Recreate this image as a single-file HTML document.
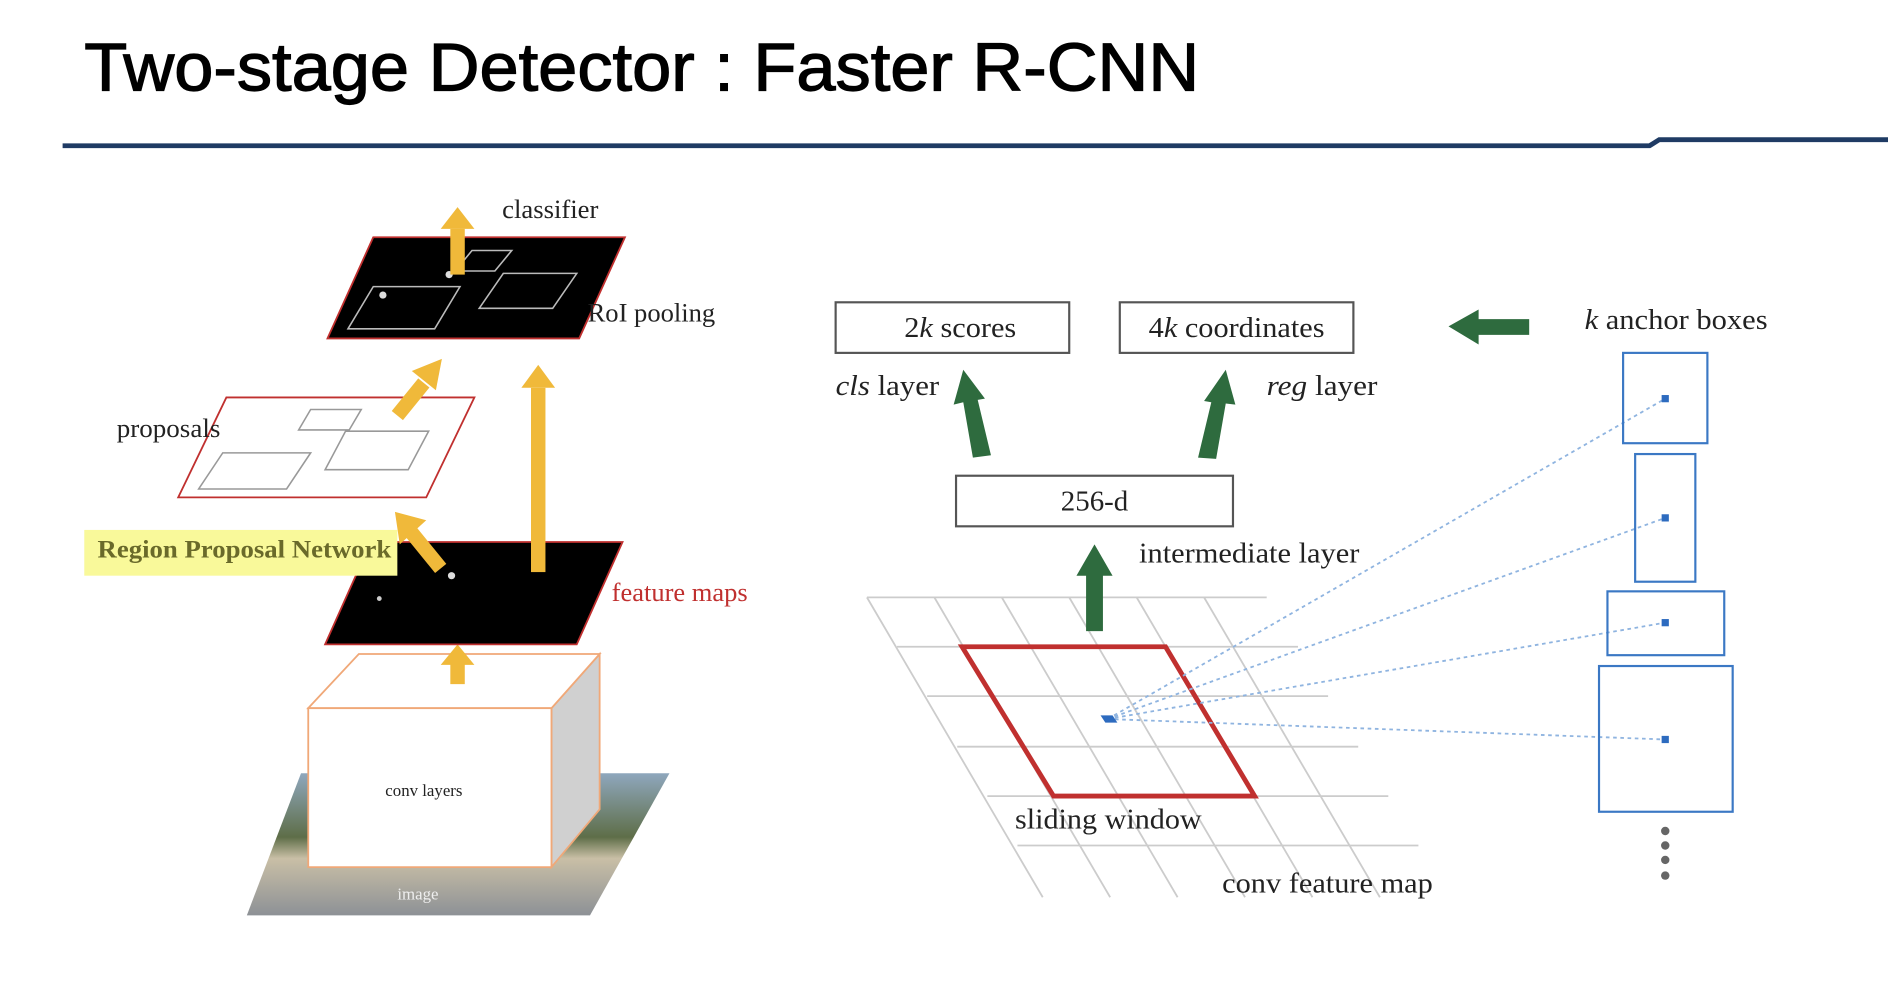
<!DOCTYPE html>
<html><head><meta charset="utf-8"><style>html,body{margin:0;padding:0;background:#fff;overflow:hidden}svg{display:block}</style></head><body>
<svg width="1888" height="990" viewBox="0 0 1568 822" preserveAspectRatio="none" xmlns="http://www.w3.org/2000/svg" font-family="Liberation Serif, serif">
<defs>
<linearGradient id="img" x1="0" y1="0" x2="0" y2="1"><stop offset="0" stop-color="#8fa7bd"/><stop offset="0.45" stop-color="#5e6e48"/><stop offset="0.6" stop-color="#c9bfa6"/><stop offset="1" stop-color="#8d9196"/></linearGradient>
</defs>
<text x="70" y="75" font-family="Liberation Sans, sans-serif" font-size="56" fill="#000" stroke="#000" stroke-width="1" textLength="926" lengthAdjust="spacingAndGlyphs">Two-stage Detector : Faster R-CNN</text>
<polyline points="52,121 1370,121 1378,116 1568,116" fill="none" stroke="#1f3b64" stroke-width="4"/>

<polygon points="205,760 250,642 556,642 490,760" fill="url(#img)"/>
<text x="330" y="747" font-size="14" fill="#eee">image</text>
<polygon points="458,588 498,543 498,672 458,720" fill="#d0d0d0" stroke="#f0a878" stroke-width="1.5"/>
<polygon points="256,588 298,543 498,543 458,588" fill="#fff" stroke="#f0a878" stroke-width="1.5"/>
<rect x="256" y="588" width="202" height="132" fill="#fff" stroke="#f0a878" stroke-width="1.5"/>
<text x="320" y="661" font-size="14" fill="#222">conv layers</text>
<polygon points="374,568 374,552 366,552 380,535 394,552 386,552 386,568" fill="#f0b93a"/>
<polygon points="270,535 308,450 517,450 479,535" fill="#000" stroke="#c0302f" stroke-width="1.5"/>
<circle cx="375" cy="478" r="3" fill="#ddd"/><circle cx="315" cy="497" r="2" fill="#ccc"/>
<text x="508" y="499" font-size="22" fill="#c0302f" textLength="113" lengthAdjust="spacingAndGlyphs">feature maps</text>
<rect x="70" y="440" width="260" height="38" fill="#f9f99a"/>
<text x="81" y="463" font-size="21" font-weight="bold" fill="#6a6a2a" textLength="244" lengthAdjust="spacingAndGlyphs">Region Proposal Network</text>
<polygon points="148,413 188,330 394,330 354,413" fill="#fff" stroke="#c0302f" stroke-width="1.5"/>
<polygon points="165,406 185,376 258,376 238,406" fill="none" stroke="#999" stroke-width="1.3"/>
<polygon points="270,390 287,358 356,358 339,390" fill="none" stroke="#999" stroke-width="1.3"/>
<polygon points="248,357 258,340 300,340 290,357" fill="none" stroke="#999" stroke-width="1.3"/>
<text x="97" y="363" font-size="22" fill="#222" textLength="86" lengthAdjust="spacingAndGlyphs">proposals</text>
<line x1="366" y1="472" x2="340" y2="440" stroke="#f0b93a" stroke-width="12"/>
<polygon points="328,425 354,432 332,452" fill="#f0b93a"/>
<rect x="441" y="322" width="12" height="153" fill="#f0b93a"/>
<polygon points="433,322 447,303 461,322" fill="#f0b93a"/>
<line x1="330" y1="345" x2="352" y2="318" stroke="#f0b93a" stroke-width="12"/>
<polygon points="367,298 362,324 342,308" fill="#f0b93a"/>
<polygon points="272,281 310,197 519,197 481,281" fill="#000" stroke="#c0302f" stroke-width="1.5"/>
<polygon points="289,273 310,238 382,238 361,273" fill="none" stroke="#bbb" stroke-width="1.3"/>
<polygon points="398,256 418,227 479,227 459,256" fill="none" stroke="#bbb" stroke-width="1.3"/>
<polygon points="378,225 392,208 425,208 411,225" fill="none" stroke="#bbb" stroke-width="1.3"/>
<circle cx="318" cy="245" r="3" fill="#ddd"/><circle cx="373" cy="228" r="3" fill="#ddd"/>
<rect x="374" y="190" width="12" height="38" fill="#f0b93a"/>
<polygon points="366,190 380,172 394,190" fill="#f0b93a"/>
<text x="417" y="181" font-size="22" fill="#222" textLength="80" lengthAdjust="spacingAndGlyphs">classifier</text>
<text x="488" y="267" font-size="22" fill="#222" textLength="106" lengthAdjust="spacingAndGlyphs">RoI pooling</text>

<g stroke="#ccc" stroke-width="1.5">
<line x1="720" y1="496" x2="1052" y2="496"/><line x1="745" y1="537" x2="1078" y2="537"/>
<line x1="770" y1="578" x2="1103" y2="578"/><line x1="795" y1="620" x2="1128" y2="620"/>
<line x1="820" y1="661" x2="1153" y2="661"/><line x1="845" y1="702" x2="1178" y2="702"/>
<line x1="720" y1="496" x2="866" y2="745"/><line x1="776" y1="496" x2="922" y2="745"/>
<line x1="832" y1="496" x2="978" y2="745"/><line x1="888" y1="496" x2="1034" y2="745"/>
<line x1="944" y1="496" x2="1090" y2="745"/><line x1="1000" y1="496" x2="1146" y2="745"/>
</g>
<polygon points="799,537 968,537 1042,661 875,661" fill="none" stroke="#c0302f" stroke-width="4"/>
<g stroke="#8fb4e0" stroke-width="1.5" stroke-dasharray="3,3" fill="none">
<line x1="920" y1="597" x2="1383" y2="331"/><line x1="920" y1="597" x2="1383" y2="430"/>
<line x1="920" y1="597" x2="1383" y2="517"/><line x1="920" y1="597" x2="1383" y2="614"/>
</g>
<polygon points="914,594 924,594 928,600 918,600" fill="#2d6bbf"/>
<g fill="none" stroke="#3b78c4" stroke-width="1.8">
<rect x="1348" y="293" width="70" height="75"/><rect x="1358" y="377" width="50" height="106"/>
<rect x="1335" y="491" width="97" height="53"/><rect x="1328" y="553" width="111" height="121"/>
</g>
<g fill="#2d6bbf"><rect x="1380" y="328" width="6" height="6"/><rect x="1380" y="427" width="6" height="6"/><rect x="1380" y="514" width="6" height="6"/><rect x="1380" y="611" width="6" height="6"/></g>
<g fill="#666"><circle cx="1383" cy="690" r="3.5"/><circle cx="1383" cy="702" r="3.5"/><circle cx="1383" cy="714" r="3.5"/><circle cx="1383" cy="727" r="3.5"/></g>
<text x="1316" y="273" font-size="24" fill="#222" textLength="152" lengthAdjust="spacingAndGlyphs"><tspan font-style="italic">k</tspan> anchor boxes</text>
<polygon points="1203,271 1228,257 1228,265 1270,265 1270,278 1228,278 1228,286" fill="#2e6b3e"/>
<g fill="#fff" stroke="#555" stroke-width="1.8">
<rect x="694" y="251" width="194" height="42"/><rect x="930" y="251" width="194" height="42"/>
<rect x="794" y="395" width="230" height="42"/>
</g>
<text x="751" y="280" font-size="24" fill="#222" textLength="93" lengthAdjust="spacingAndGlyphs">2<tspan font-style="italic">k</tspan> scores</text>
<text x="954" y="280" font-size="24" fill="#222" textLength="146" lengthAdjust="spacingAndGlyphs">4<tspan font-style="italic">k</tspan> coordinates</text>
<text x="909" y="424" font-size="24" text-anchor="middle" fill="#222">256-d</text>
<text x="694" y="328" font-size="24" fill="#222" textLength="86" lengthAdjust="spacingAndGlyphs"><tspan font-style="italic">cls</tspan> layer</text>
<text x="1052" y="328" font-size="24" fill="#222" textLength="92" lengthAdjust="spacingAndGlyphs"><tspan font-style="italic">reg</tspan> layer</text>
<text x="946" y="467" font-size="24" fill="#222" textLength="183" lengthAdjust="spacingAndGlyphs">intermediate layer</text>
<text x="843" y="688" font-size="24" fill="#222" textLength="155" lengthAdjust="spacingAndGlyphs">sliding window</text>
<text x="1015" y="741" font-size="24" fill="#222" textLength="175" lengthAdjust="spacingAndGlyphs">conv feature map</text>
<g fill="#2e6b3e">
<polygon points="902,524 902,478 894,478 909,452 924,478 916,478 916,524"/>
<polygon points="808,380 800,334 792,336 800,307 818,331 812,332 823,378"/>
<polygon points="995,380 1006,334 1000,333 1018,307 1026,336 1018,335 1010,381"/>
</g>
</svg>
</body></html>
